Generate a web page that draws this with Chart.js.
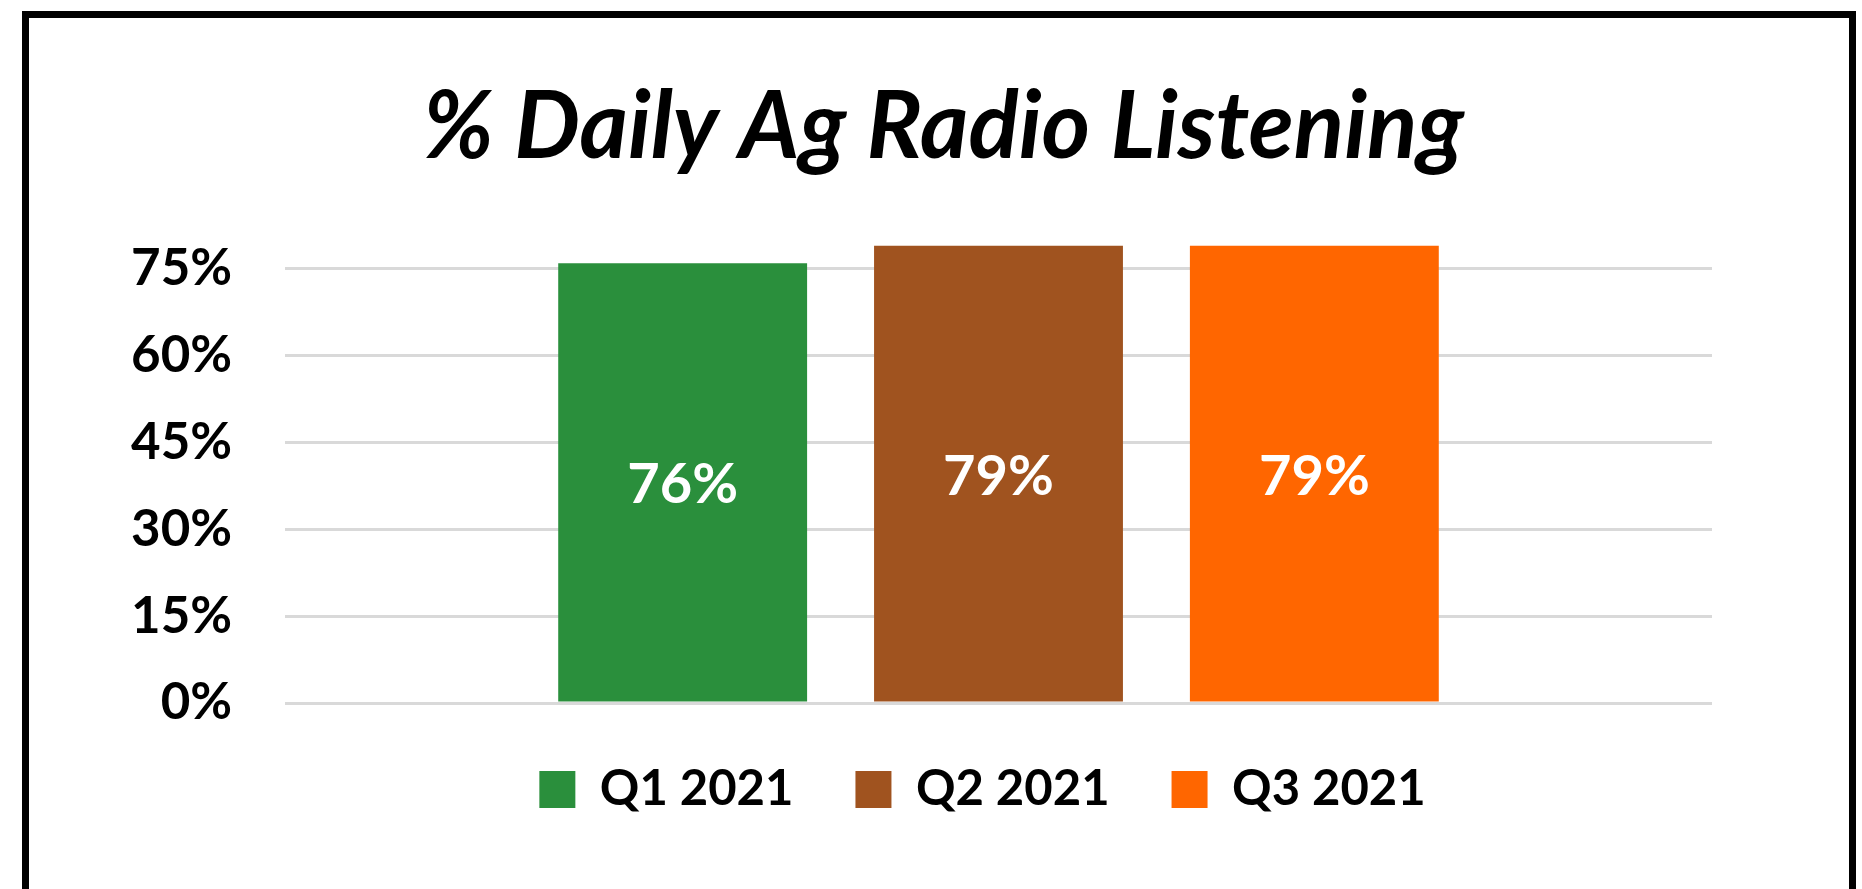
<!DOCTYPE html>
<html lang="en">
<head>
  <meta charset="UTF-8">
  <title>% Daily Ag Radio Listening</title>
  <script src="https://cdn.jsdelivr.net/npm/chart.js"></script>
  <style>
    body {
      margin: 0;
      background: #fff;
      overflow: hidden;
      font-family: Lato, 'Open Sans', sans-serif;
    }
    .frame {
      position: absolute;
      left: 22px;
      top: 11px;
      width: 1834px;
      height: 1000px;
      box-sizing: border-box;
      border: 7px solid #000;
      border-bottom: none;
    }
    #radioChart {
      position: absolute;
      left: 0;
      top: 0;
    }
  </style>
</head>
<body>
  <div class="frame"></div>
  <canvas id="radioChart" width="1862" height="889"></canvas>

  <script>
    // data
    const categories = [''];
    const seriesLabels = ['Q1 2021', 'Q2 2021', 'Q3 2021'];
    const seriesValues = [76, 79, 79];
    const tickValues = [0, 15, 30, 45, 60, 75];
    const yMax = 80;

    const barColors = ['#2a8f3c', '#a0531f', '#ff6600'];
    const fontFamily = 'Lato, "Open Sans", sans-serif';

    // white value labels in the middle of each bar
    const barLabels = {
      id: 'barLabels',
      afterDatasetsDraw(chart) {
        const ctx = chart.ctx;
        ctx.save();
        ctx.fillStyle = '#fff';
        ctx.font = 'bold 56px ' + fontFamily;
        ctx.textAlign = 'center';
        ctx.textBaseline = 'middle';
        chart.data.datasets.forEach((ds, i) => {
          chart.getDatasetMeta(i).data.forEach((bar, j) => {
            ctx.fillText(ds.data[j] + '%', bar.x, (bar.y + bar.base) / 2 + 3);
          });
        });
        ctx.restore();
      }
    };

    // the original centres title and legend a little off the plot centre
    const nudge = {
      id: 'nudge',
      afterLayout(chart) {
        chart.titleBlock.left += 30;
        chart.titleBlock.right += 30;
        chart.legend.left -= 16;
        chart.legend.right -= 16;
      }
    };

    const ctx = document.getElementById('radioChart').getContext('2d');
    new Chart(ctx, {
      type: 'bar',
      data: {
        labels: categories,
        datasets: seriesLabels.map((label, i) => ({
          label: label,
          data: [seriesValues[i]],
          backgroundColor: barColors[i],
          borderWidth: 0,
          barPercentage: 0.788,
          categoryPercentage: 0.664
        }))
      },
      options: {
        responsive: false,
        animation: false,
        layout: {
          padding: { top: 0, left: 115, right: 150, bottom: 65 }
        },
        scales: {
          x: { display: false },
          y: {
            min: 0,
            max: yMax,
            afterBuildTicks: scale => {
              scale.ticks = tickValues.map(v => ({ value: v }));
            },
            afterFit: scale => {
              scale.width = 170;
            },
            ticks: {
              padding: 53,
              color: '#000',
              font: { family: fontFamily, size: 51, weight: 'bold' },
              callback: v => v + '%'
            },
            grid: { color: '#d9d9d9', lineWidth: 3, drawTicks: false },
            border: { display: false }
          }
        },
        plugins: {
          title: {
            display: true,
            text: '% Daily Ag Radio Listening',
            color: '#000',
            font: { family: fontFamily, size: 93, weight: 'bold', style: 'italic', lineHeight: 1.2 },
            padding: { top: 72, bottom: 56.4 }
          },
          legend: {
            position: 'bottom',
            fullSize: false,
            labels: {
              boxWidth: 36,
              boxHeight: 37,
              padding: 62,
              color: '#000',
              font: { family: fontFamily, size: 49, weight: 'bold' }
            }
          },
          tooltip: { enabled: false }
        }
      },
      plugins: [barLabels, nudge]
    });
  </script>
</body>
</html>
